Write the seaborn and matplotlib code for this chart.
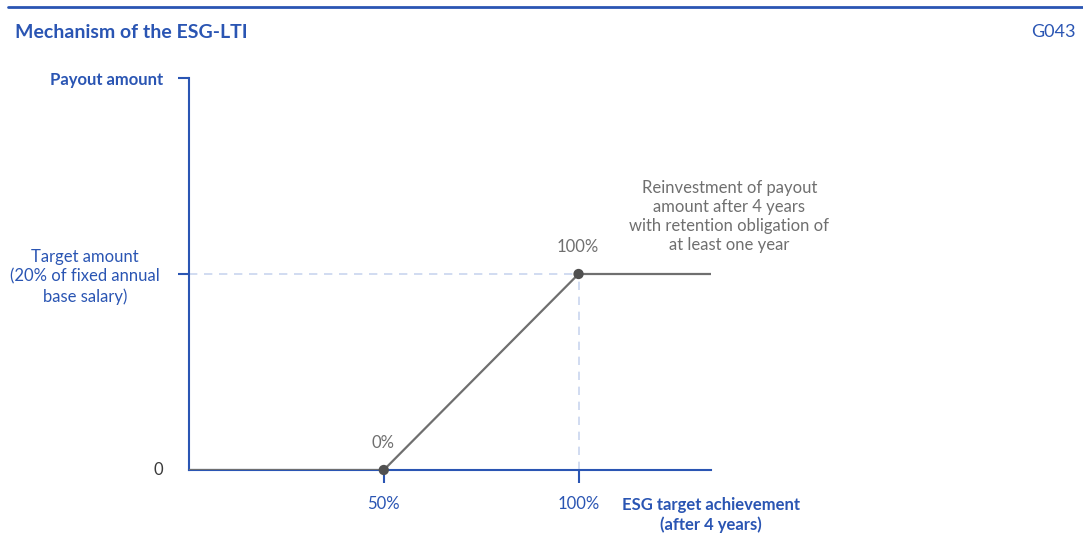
import matplotlib
matplotlib.use("Agg")
import matplotlib.pyplot as plt
from matplotlib.lines import Line2D
import seaborn as sns
import pandas as pd

# Data: payout curve of the ESG-LTI
achievement = [0, 50, 100, 134]     # ESG target achievement (%)
payout = [0, 0, 100, 100]           # payout (% of target amount)
point_x = [50, 100]
point_y = [0, 100]
point_labels = ["0%", "100%"]
x_ticks = [50, 100]
x_tick_labels = ["50%", "100%"]

sns.set_theme(style="white")
plt.rcParams['font.family'] = ['Lato', 'DejaVu Sans']

BLUE = "#2a55b3"
GRAY = "#6f6f6f"
DASH = "#c9d5ef"
FS = 12

fig = plt.figure(figsize=(10.83, 5.36), dpi=100)
ax = fig.add_axes([189 / 1083, 1 - 470 / 536, 522 / 1083, 392 / 536])

df = pd.DataFrame({"x": achievement, "y": payout})
pts = pd.DataFrame({"x": point_x, "y": point_y})

# guide lines
ax.plot([0, 100], [100, 100], color=DASH, lw=1.2, ls=(0, (5, 4)), zorder=1)
ax.plot([100, 100], [0, 100], color=DASH, lw=1.2, ls=(0, (5, 4)), zorder=1)

sns.lineplot(data=df, x="x", y="y", color=GRAY, lw=1.6, ax=ax, zorder=3)
sns.scatterplot(data=pts, x="x", y="y", color="#505050", s=55, ax=ax,
                edgecolor="none", zorder=4, clip_on=False)

for x, y, lab in zip(point_x, point_y, point_labels):
    ax.text(x - 0.3, y + 14, lab, ha="center", va="center", color=GRAY, fontsize=FS)

ax.text(138.7, 129.3, "Reinvestment of payout\namount after 4 years\nwith retention obligation of\nat least one year",
        ha="center", va="center", color=GRAY, fontsize=FS, linespacing=1.22)

ax.set_xlim(0, 134)
ax.set_ylim(0, 200)
ax.set_xlabel("")
ax.set_ylabel("")

for s in ["top", "right"]:
    ax.spines[s].set_visible(False)
for s in ["left", "bottom"]:
    ax.spines[s].set_color(BLUE)
    ax.spines[s].set_linewidth(1.5)

ax.set_xticks(x_ticks)
ax.set_xticklabels(x_tick_labels)
ax.tick_params(axis="x", bottom=True, colors=BLUE, length=9, width=1.5, direction="out",
               labelsize=FS, pad=10)
ax.set_yticks([100, 200])
ax.set_yticklabels(["", ""])
ax.tick_params(axis="y", left=True, colors=BLUE, length=8, width=1.5, direction="out")

# y-axis labels
ax.text(-6.6, 0, "0", ha="right", va="center", color="#3a3a3a", fontsize=FS)
ax.text(-26.7, 98.5, "Target amount\n(20% of fixed annual\nbase salary)", ha="center", va="center",
        color=BLUE, fontsize=FS, linespacing=1.25)
ax.text(-6.6, 199, "Payout amount", ha="right", va="center", color=BLUE,
        fontsize=FS, fontweight="bold")
ax.text(134, -23, "ESG target achievement\n(after 4 years)", ha="center", va="center",
        color=BLUE, fontsize=FS, fontweight="bold", linespacing=1.25)

# header
fig.add_artist(Line2D([8 / 1083, 1], [1 - 7 / 536, 1 - 7 / 536], color=BLUE, lw=2))
fig.text(15 / 1083, 1 - 32 / 536, "Mechanism of the ESG-LTI", ha="left", va="center",
         color=BLUE, fontsize=14, fontweight="bold")
fig.text(1076 / 1083, 1 - 32 / 536, "G043", ha="right", va="center", color=BLUE, fontsize=13)

plt.savefig("out.png", dpi=100)
